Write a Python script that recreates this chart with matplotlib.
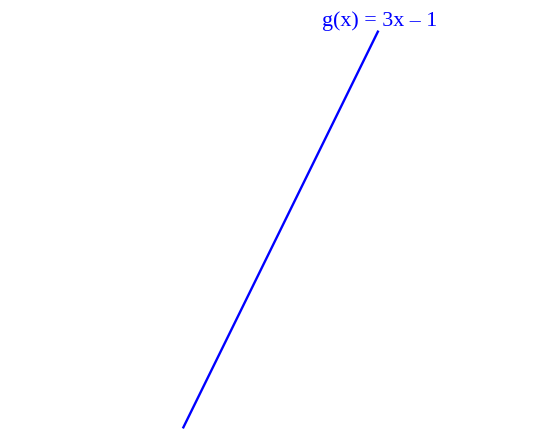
import numpy as np
import matplotlib.pyplot as plt

# line end points of g(x) = 3x - 1
x_vals = [-1.07, 2.245]
label = "g(x) = 3x \u2013 1"


def g(x):
    return 3 * np.asarray(x) - 1


fig = plt.figure(figsize=(5.35, 4.29), dpi=100)
ax = fig.add_axes([0, 0, 1, 1])
ax.plot(x_vals, g(x_vals), color="#0000ff", lw=1.7, solid_capstyle="butt")
ax.text(1.288, 5.85, label, color="#0000ff", fontsize=15.8,
        family="Liberation Serif", ha="left", va="baseline")
ax.set_xlim(-4.17, 4.9)
ax.set_ylim(-4.225, 6.5)
ax.axis("off")

fig.savefig("out.png", dpi=100)
